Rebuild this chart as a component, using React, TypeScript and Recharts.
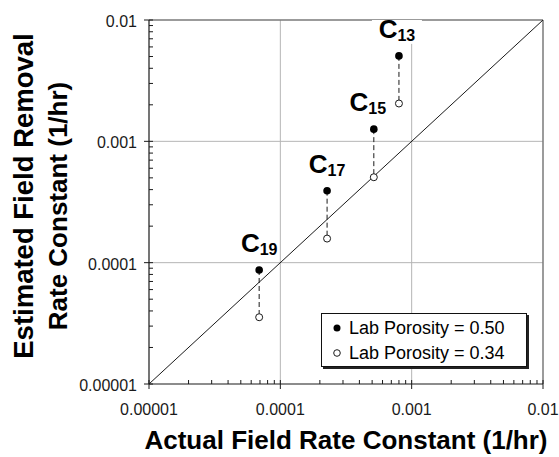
import React from 'react'
import {
  ScatterChart,
  Scatter,
  XAxis,
  YAxis,
  ReferenceLine,
  Legend,
  Label,
} from 'recharts'

// rate constants (1/hr), one entry per compound
const SPECIES = ['13', '15', '17', '19']
const ACTUAL_K = [8.0e-4, 5.15e-4, 2.27e-4, 6.9e-5]
const EST_K_050 = [5.06e-3, 1.26e-3, 3.92e-4, 8.7e-5]
const EST_K_034 = [2.05e-3, 5.06e-4, 1.58e-4, 3.55e-5]
const SERIES_NAMES = ['Lab Porosity = 0.50', 'Lab Porosity = 0.34']

const DECADES = [0.00001, 0.0001, 0.001, 0.01]
const DECADE_LABELS = ['0.00001', '0.0001', '0.001', '0.01']
const MINOR_STEPS = [2, 3, 4, 5, 6, 7, 8, 9]

const ALL_TICKS = [
  ...DECADES,
  ...DECADES.slice(0, 3).flatMap((d) => MINOR_STEPS.map((m) => m * d)),
]

const FONT = '"Liberation Sans", Arial, sans-serif'
const INK = '#1a1a1a'

// small per-label nudges, and which label sits on the frame
const LABEL_DX: Record<string, number> = { '13': -2, '15': -6, '17': 0, '19': 0 }
const LABEL_BOXED: Record<string, boolean> = { '13': true }

const filled = SPECIES.map((s, i) => ({ name: s, x: ACTUAL_K[i], y: EST_K_050[i] }))
const open = SPECIES.map((s, i) => ({ name: s, x: ACTUAL_K[i], y: EST_K_034[i] }))

const labelFor = (v: number) => DECADE_LABELS[DECADES.indexOf(v)]

function XTick({ x, y, payload }: any) {
  const major = DECADES.includes(payload.value)
  return (
    <g>
      <line x1={x} x2={x} y1={major ? y + 5 : y} y2={y - 4} stroke={INK} strokeWidth={1} />
      {major && (
        <text x={x} y={y + 31} textAnchor="middle" fontSize={16} fontFamily={FONT} fill={INK}>
          {labelFor(payload.value)}
        </text>
      )}
    </g>
  )
}

function YTick({ x, y, payload }: any) {
  const major = DECADES.includes(payload.value)
  return (
    <g>
      <line x1={major ? x - 5 : x} x2={x + 4} y1={y} y2={y} stroke={INK} strokeWidth={1} />
      {major && (
        <text x={x - 12} y={y + 7} textAnchor="end" fontSize={16} fontFamily={FONT} fill={INK}>
          {labelFor(payload.value)}
        </text>
      )}
    </g>
  )
}

function FilledDot(props: any) {
  const { cx, cy, payload } = props
  const name: string = payload.name
  const lx = cx + (LABEL_DX[name] || 0)
  const base = cy - 18
  return (
    <g>
      {LABEL_BOXED[name] && <rect x={lx - 25} y={base - 22} width={50} height={28} fill="#fff" />}
      <text x={lx} y={base} textAnchor="middle" fontFamily={FONT} fontWeight="bold" fill="#000">
        <tspan fontSize={26}>C</tspan>
        <tspan fontSize={16} dy={3}>{name}</tspan>
      </text>
      <circle cx={cx} cy={cy} r={3.8} fill="#000" />
    </g>
  )
}

function OpenDot({ cx, cy }: any) {
  return <circle cx={cx} cy={cy} r={3.5} fill="#fff" stroke={INK} strokeWidth={1} />
}

function LegendBox({ payload }: any) {
  const items = [...(payload || [])].sort(
    (a: any, b: any) => SERIES_NAMES.indexOf(a.value) - SERIES_NAMES.indexOf(b.value),
  )
  return (
    <div
      style={{
        width: 206,
        height: 54,
        boxSizing: 'border-box',
        border: '1px solid #111',
        boxShadow: '2px 2px 0 #222',
        background: '#fff',
      }}
    >
      <svg width={204} height={52} style={{ display: 'block' }}>
        {items.map((entry: any, i: number) => (
          <g key={entry.value} transform={`translate(0, ${i * 25})`}>
            {SERIES_NAMES.indexOf(entry.value) === 0 ? (
              <circle cx={15} cy={14} r={3.5} fill="#000" />
            ) : (
              <circle cx={15} cy={14} r={3.3} fill="#fff" stroke={INK} />
            )}
            <text x={27} y={20} fontSize={18} fontFamily={FONT} fill="#000">
              {entry.value}
            </text>
          </g>
        ))}
      </svg>
    </div>
  )
}

function YTitle() {
  return (
    <g fontFamily={FONT} fontWeight="bold" fill="#000">
      <text transform="translate(33, 196) rotate(-90)" textAnchor="middle" fontSize={27.5}>
        Estimated Field Removal
      </text>
      <text transform="translate(67, 206) rotate(-90)" textAnchor="middle" fontSize={26}>
        Rate Constant (1/hr)
      </text>
    </g>
  )
}

function XTitle() {
  return (
    <text x={346} y={449} textAnchor="middle" fontFamily={FONT} fontWeight="bold" fontSize={26} fill="#000">
      Actual Field Rate Constant (1/hr)
    </text>
  )
}

export default function App() {
  return (
    <div style={{ position: 'absolute', left: 0, top: 0, width: 559, height: 457, background: '#fff' }}>
      <ScatterChart width={559} height={457} margin={{ top: 20, right: 16, bottom: 0, left: 0 }}>
        <XAxis
          type="number"
          dataKey="x"
          scale="log"
          domain={[DECADES[0], DECADES[3]]}
          allowDataOverflow
          ticks={ALL_TICKS}
          interval={0}
          height={73}
          tickSize={0}
          tickMargin={0}
          tickLine={false}
          tick={<XTick />}
          axisLine={{ stroke: INK, strokeWidth: 1.2 }}
        >
          <Label content={<XTitle />} />
        </XAxis>
        <YAxis
          type="number"
          dataKey="y"
          scale="log"
          domain={[DECADES[0], DECADES[3]]}
          allowDataOverflow
          ticks={ALL_TICKS}
          interval={0}
          width={149}
          tickSize={0}
          tickMargin={0}
          tickLine={false}
          tick={<YTick />}
          axisLine={{ stroke: INK, strokeWidth: 1.2 }}
        >
          <Label content={<YTitle />} />
        </YAxis>

        {DECADES.slice(1, 3).map((d) => (
          <ReferenceLine key={'gx' + d} x={d} stroke="#b5b5b5" strokeWidth={1} />
        ))}
        {DECADES.slice(1, 3).map((d) => (
          <ReferenceLine key={'gy' + d} y={d} stroke="#b5b5b5" strokeWidth={1} />
        ))}
        <ReferenceLine y={DECADES[3]} stroke="#7a7a7a" strokeWidth={1.5} />
        <ReferenceLine x={DECADES[3]} stroke="#7a7a7a" strokeWidth={1.5} />

        <ReferenceLine
          segment={[
            { x: DECADES[0], y: DECADES[0] },
            { x: DECADES[3], y: DECADES[3] },
          ]}
          stroke={INK}
          strokeWidth={1}
        />
        {SPECIES.map((s, i) => (
          <ReferenceLine
            key={'link' + s}
            segment={[
              { x: ACTUAL_K[i], y: EST_K_050[i] },
              { x: ACTUAL_K[i], y: EST_K_034[i] },
            ]}
            stroke={INK}
            strokeWidth={1}
            strokeDasharray="5 3"
          />
        ))}

        <Scatter name={SERIES_NAMES[0]} data={filled} fill="#000" shape={<FilledDot />} isAnimationActive={false} />
        <Scatter name={SERIES_NAMES[1]} data={open} fill="#fff" shape={<OpenDot />} isAnimationActive={false} />

        <Legend
          layout="vertical"
          align="center"
          verticalAlign="middle"
          content={<LegendBox />}
          wrapperStyle={{ left: 321, top: 313, width: 206, height: 54 }}
        />
      </ScatterChart>
    </div>
  )
}
